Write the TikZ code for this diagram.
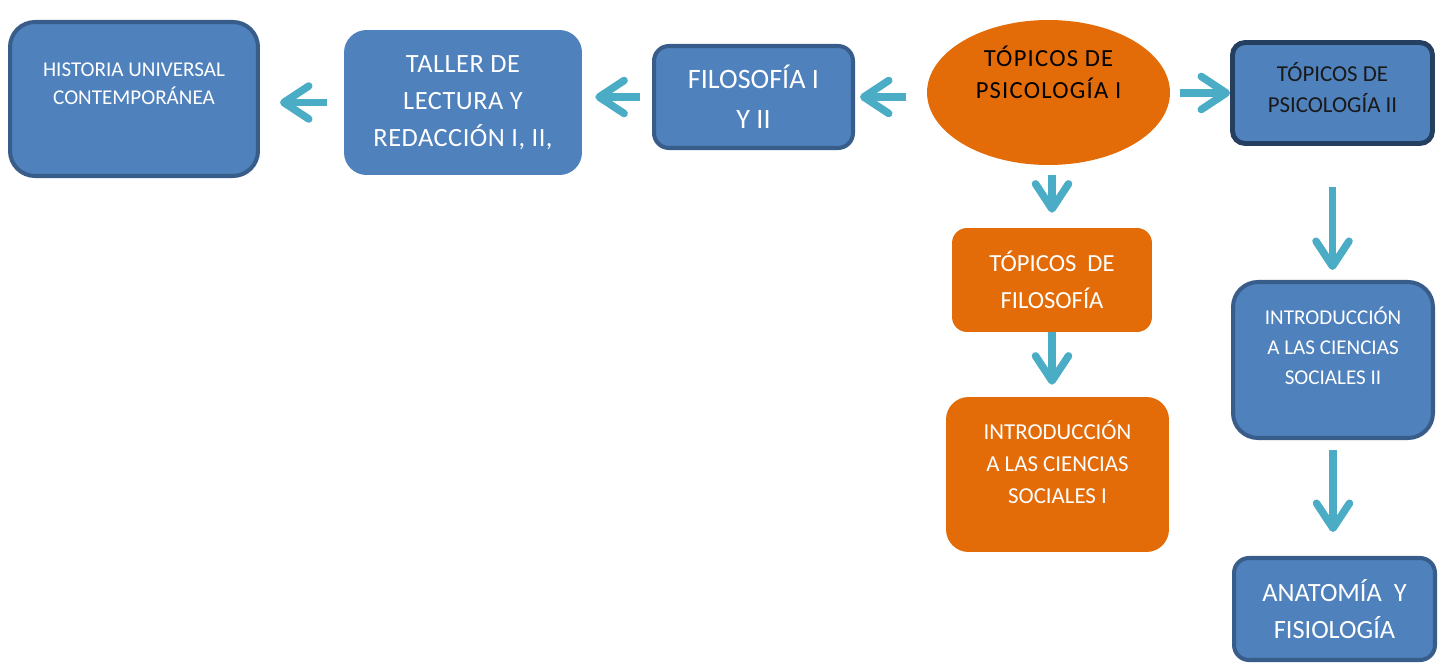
\documentclass[tikz,border=0pt]{standalone}
\usepackage{fontspec}
\setmainfont{Carlito}
\usetikzlibrary{shapes.geometric,arrows.meta}
\definecolor{boxblue}{HTML}{4F81BD}
\definecolor{boxline}{HTML}{385D8A}
\definecolor{boxdark}{HTML}{253F60}
\definecolor{boxorange}{HTML}{E36C09}
\definecolor{arrowaqua}{HTML}{4BACC6}
\newcommand{\fsz}[2]{\fontsize{#1}{#2}\selectfont}
\begin{document}
\begin{tikzpicture}[x=0.02cm,y=-0.02cm,
    bluebox/.style={rectangle,fill=boxblue,text=white,align=center,inner sep=0pt},
    edged/.style={draw=boxline,line width=2.3pt},
    orangebox/.style={rectangle,fill=boxorange,text=white,align=center,inner sep=0pt},
    lift/.style={text depth=#1},
    arr/.style={draw=arrowaqua,line width=4.3pt,
      -{Straight Barb[length=0.5cm,width=0.66cm,round]}}]
  \useasboundingbox (0,0) rectangle (1444,663);
  \draw
    (134,99) node[bluebox,edged,rounded corners=0.5cm,minimum width=4.96cm,minimum height=3.08cm,
      font=\fsz{12}{16},lift=0.62cm] (hist) {HISTORIA UNIVERSAL\\CONTEMPORÁNEA}
    (463,102.5) node[bluebox,rounded corners=0.45cm,minimum width=4.76cm,minimum height=2.9cm,
      font=\fsz{15}{21}\addfontfeature{LetterSpace=2}] (taller) {TALLER DE\\LECTURA Y\\REDACCIÓN I, II,}
    (753.5,97) node[bluebox,edged,rounded corners=0.3cm,minimum width=3.98cm,minimum height=2.04cm,
      font=\fsz{16}{23}] (filo) {FILOSOFÍA I\\Y II}
    (1048.5,92.5) node[ellipse,fill=boxorange,text=black,align=center,inner sep=0pt,
      minimum width=4.86cm,minimum height=2.9cm,font=\fsz{14}{18}\addfontfeature{LetterSpace=5},
      lift=0.8cm] (psiuno) {TÓPICOS DE\\PSICOLOGÍA I}
    (1332.5,93) node[bluebox,draw=boxdark,line width=2.8pt,text=black!90,rounded corners=0.25cm,
      minimum width=4cm,minimum height=2.02cm,font=\fsz{13}{17.5},lift=0.22cm] (psidos) {TÓPICOS DE\\PSICOLOGÍA II}
    (1052,280) node[orangebox,rounded corners=0.3cm,minimum width=4cm,minimum height=2.08cm,
      font=\fsz{14}{21}] (topfil) {TÓPICOS \ DE\\FILOSOFÍA}
    (1057.5,474.5) node[orangebox,rounded corners=0.45cm,minimum width=4.46cm,minimum height=3.1cm,
      font=\fsz{13}{18},lift=0.5cm] (introuno) {INTRODUCCIÓN\\A LAS CIENCIAS\\SOCIALES I}
    (1333,360) node[bluebox,edged,rounded corners=0.5cm,minimum width=4cm,minimum height=3.12cm,
      font=\fsz{12}{17},lift=0.58cm] (introdos) {INTRODUCCIÓN\\A LAS CIENCIAS\\SOCIALES II}
    (1334.5,609) node[bluebox,edged,rounded corners=0.3cm,minimum width=4.02cm,minimum height=2.04cm,
      font=\fsz{15}{21.5}] (anat) {ANATOMÍA \ Y\\FISIOLOGÍA};
  % arrows between the subjects
  \begin{scope}[arr]
    \draw[shorten <=0.34cm,shorten >=0.4cm] (taller.west) to (taller.west -| hist.east);
    \draw[shorten <=0.24cm,shorten >=0.26cm] (filo.west) to (filo.west -| taller.east);
    \draw[shorten <=0.42cm,shorten >=0.1cm] (psiuno.west |- filo) to (filo.east);
    \draw[shorten <=0.2cm] (psiuno.east |- psidos) to (psidos.west);
    \draw[shorten <=0.2cm,shorten >=0.3cm] (psiuno.south -| topfil) to (topfil.north);
    \draw[shorten >=0.24cm] (topfil.south) to (topfil.south |- introuno.north);
    \draw[shorten <=0.82cm,shorten >=0.2cm] (psidos.south) to (psidos.south |- introdos.north);
    \draw[shorten <=0.2cm,shorten >=0.48cm] (introdos.south) to (introdos.south |- anat.north);
  \end{scope}
\end{tikzpicture}
\end{document}
